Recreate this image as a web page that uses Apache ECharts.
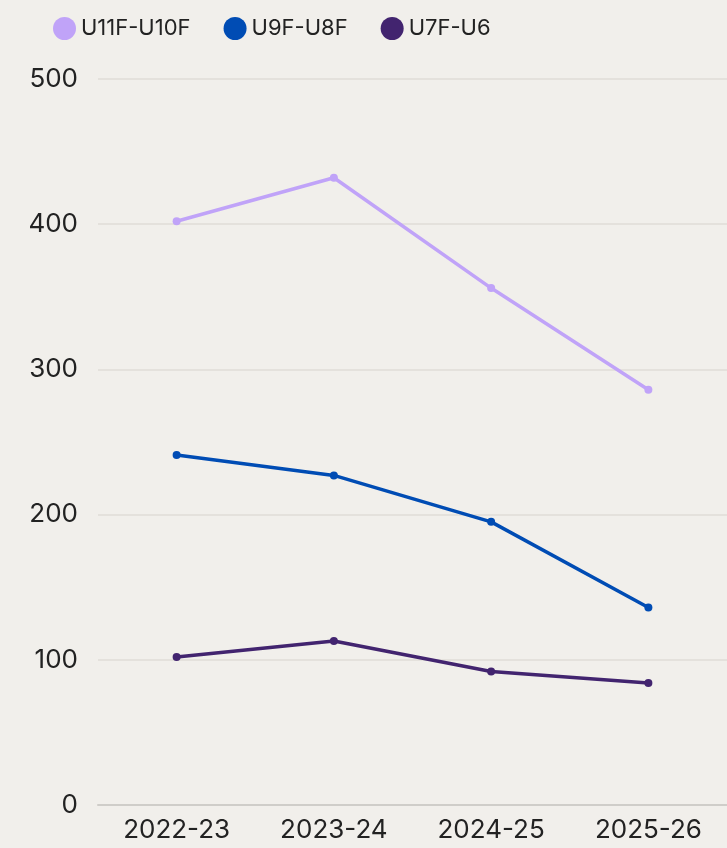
<!DOCTYPE html>
<html>
<head>
<meta charset="utf-8">
<script src="https://cdn.jsdelivr.net/npm/echarts@6/dist/echarts.min.js"></script>
<style>
  html, body { margin: 0; padding: 0; background: #f1efeb; }
  #chart { width: 727px; height: 848px; }
</style>
</head>
<body>
<div id="chart"></div>
<script>
const seasons = ['2022-23', '2023-24', '2024-25', '2025-26']
const u11u10 = [402, 432, 356, 286]
const u9u8 = [241, 227, 195, 136]
const u7u6 = [102, 113, 92, 84]

const font = 'Inter, "Noto Sans", sans-serif'

const chart = echarts.init(document.getElementById('chart'))
chart.setOption({
  backgroundColor: '#f1efeb',
  animation: false,
  textStyle: { fontFamily: font },
  legend: {
    left: 48,
    top: 12,
    icon: 'circle',
    itemWidth: 23,
    itemHeight: 23,
    itemGap: 33,
    textStyle: { fontSize: 22, color: '#222', fontFamily: font },
    data: ['U11F-U10F', 'U9F-U8F', 'U7F-U6']
  },
  grid: { left: 98, right: -5, top: 79, bottom: 43 },
  xAxis: {
    type: 'category',
    data: seasons,
    axisLine: { lineStyle: { color: '#cfcdc9', width: 2 } },
    axisTick: { show: false },
    axisLabel: { fontSize: 26, color: '#222', margin: 12 }
  },
  yAxis: {
    type: 'value',
    min: 0,
    max: 500,
    interval: 100,
    axisLabel: { fontSize: 26, color: '#222', margin: 20 },
    splitLine: { lineStyle: { color: '#dfdcd7', width: 1.5 } }
  },
  series: [
    {
      name: 'U11F-U10F', type: 'line', data: u11u10,
      color: '#c0a3f8', symbol: 'circle', symbolSize: 8,
      lineStyle: { width: 3.5 }
    },
    {
      name: 'U9F-U8F', type: 'line', data: u9u8,
      color: '#004cb4', symbol: 'circle', symbolSize: 8,
      lineStyle: { width: 3.5 }
    },
    {
      name: 'U7F-U6', type: 'line', data: u7u6,
      color: '#42246f', symbol: 'circle', symbolSize: 8,
      lineStyle: { width: 3.5 }
    }
  ]
})
</script>
</body>
</html>
